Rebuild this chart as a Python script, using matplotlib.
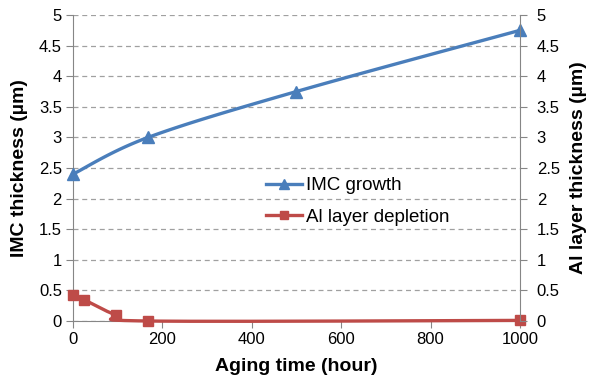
import numpy as np
import matplotlib.pyplot as plt

plt.rcParams['font.family'] = ['Liberation Sans', 'DejaVu Sans']

# aging time (hour)
imc_time = [0, 168, 500, 1000]
imc_thick = [2.40, 3.00, 3.75, 4.75]
al_time = [0, 24, 96, 168, 1000]
al_thick = [0.42, 0.35, 0.10, 0.00, 0.01]

xticks = [0, 200, 400, 600, 800, 1000]
yticks = [0, 0.5, 1, 1.5, 2, 2.5, 3, 3.5, 4, 4.5, 5]
ytick_labels = ['0', '0.5', '1', '1.5', '2', '2.5', '3', '3.5', '4', '4.5', '5']

blue = '#4A7EBB'
red = '#BE4B48'
gray = '#868686'


# smooth line like Excel (Catmull-Rom through the markers)
def smooth(xs, ys, n=40):
    p = np.column_stack([xs, ys]).astype(float)
    p = np.vstack([p[0], p, p[-1]])
    out = []
    for i in range(1, len(p) - 2):
        p0, p1, p2, p3 = p[i - 1], p[i], p[i + 1], p[i + 2]
        c1 = p1 + (p2 - p0) / 6
        c2 = p2 - (p3 - p1) / 6
        t = np.linspace(0, 1, n)[:, None]
        seg = ((1 - t) ** 3) * p1 + 3 * ((1 - t) ** 2) * t * c1 + 3 * (1 - t) * t ** 2 * c2 + t ** 3 * p2
        out.append(seg)
    out = np.vstack(out)
    return out[:, 0], out[:, 1]


fig = plt.figure(figsize=(5.89, 3.81), dpi=100)
ax = fig.add_axes([73 / 589, 1 - 321 / 381, 447 / 589, 306 / 381])

sx, sy = smooth(imc_time, imc_thick)
ax.plot(sx, sy, color=blue, lw=2.4, zorder=3, clip_on=False)
ax.plot(imc_time, imc_thick, '^', color=blue, ms=8.5, zorder=4, clip_on=False)
sx, sy = smooth(al_time, al_thick)
ax.plot(sx, sy, color=red, lw=2.4, zorder=3, clip_on=False)
ax.plot(al_time, al_thick, 's', color=red, ms=7, zorder=4, clip_on=False)

# legend handles
ax.plot([], [], '-^', color=blue, lw=2.4, ms=7, label='IMC growth')
ax.plot([], [], '-s', color=red, lw=2.4, ms=6, label='Al layer depletion')
ax.legend(loc='upper left', bbox_to_anchor=(0.415, 0.495), frameon=False,
          fontsize=13.5, handlelength=1.9, handletextpad=0.25, labelspacing=0.78,
          borderaxespad=0)

ax.set_xlim(0, 1000)
ax.set_ylim(0, 5)
ax.set_xticks(xticks)
ax.set_yticks(yticks)
ax.set_yticklabels(ytick_labels)
ax.yaxis.grid(True, linestyle=(0, (4, 3)), color='#a0a0a0', lw=0.9)
ax.set_axisbelow(True)
for s in ['top', 'right']:
    ax.spines[s].set_visible(False)
for s in ['left', 'bottom']:
    ax.spines[s].set_color(gray)
ax.tick_params(direction='out', length=5, color=gray, labelsize=12, pad=3)
ax.set_xlabel('Aging time (hour)', fontsize=14, fontweight='bold', labelpad=8)
ax.set_ylabel('IMC thickness (µm)', fontsize=14, fontweight='bold', labelpad=8)

ax2 = ax.twinx()
ax2.set_ylim(0, 5)
ax2.set_yticks(yticks)
ax2.set_yticklabels(ytick_labels)
for s in ['top', 'left', 'bottom']:
    ax2.spines[s].set_visible(False)
ax2.spines['right'].set_color(gray)
ax2.tick_params(direction='out', length=5, color=gray, labelsize=12, pad=7)
ax2.set_ylabel('Al layer thickness (µm)', fontsize=14, fontweight='bold', labelpad=7)

fig.savefig('out.png', dpi=100)
